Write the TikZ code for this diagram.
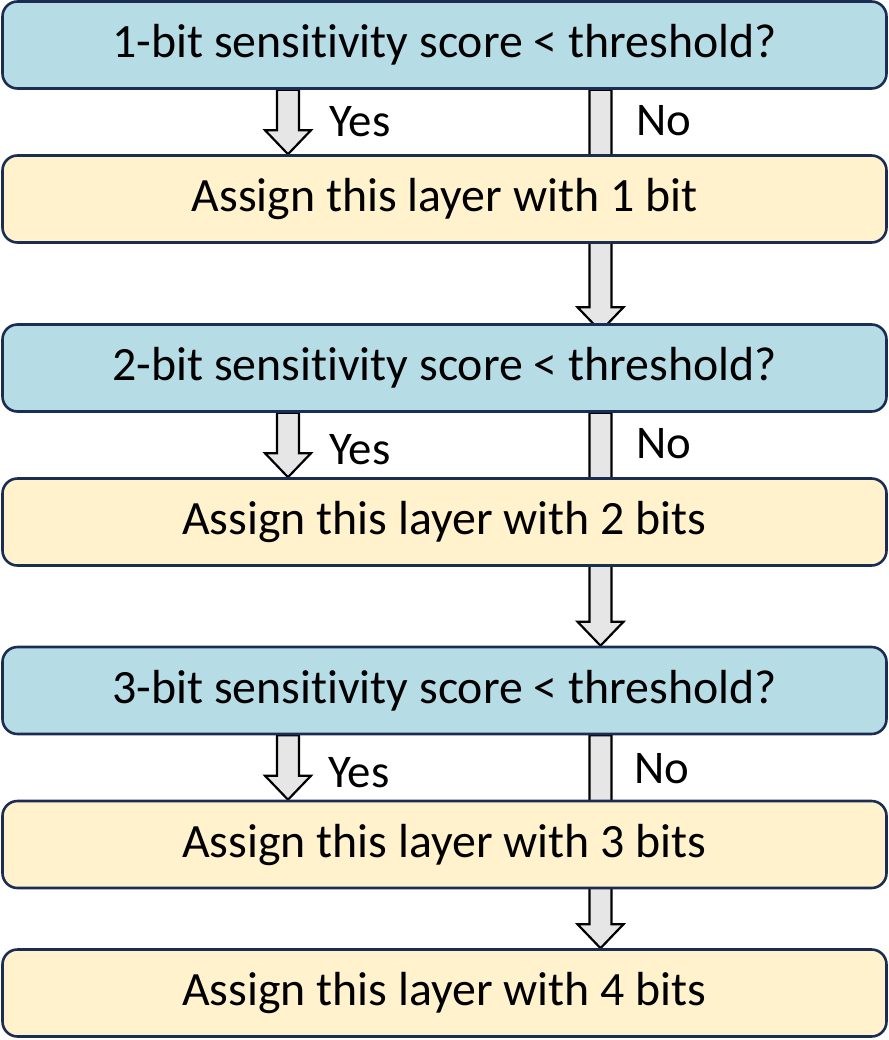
\documentclass[tikz,border=0pt]{standalone}
\usepackage{fontspec}
\setmainfont{Carlito}[Ligatures=NoCommon]
\usetikzlibrary{calc,backgrounds}
\definecolor{boxblue}{RGB}{182,220,230}
\definecolor{boxyellow}{RGB}{255,242,204}
\definecolor{boxline}{RGB}{28,45,84}
\definecolor{arrowgray}{RGB}{230,230,230}
\tikzset{
  box/.style={draw=boxline, line width=2.6bp, rounded corners=15bp,
    minimum width=884bp, minimum height=87bp, inner sep=0pt,
    font=\fontsize{48}{56}\selectfont},
  decision/.style={box, fill=boxblue},
  action/.style={box, fill=boxyellow},
  lbl/.style={font=\fontsize{47}{56}\selectfont, inner sep=0pt, anchor=west},
  blockarrow/.style={draw=black, fill=arrowgray, line width=2.2bp, line join=miter}
}
\newcommand{\blockarr}[2]{%
  \path[blockarrow] let \p1=(#1), \p2=(#2) in
    ({\x1-11bp},\y1) -- ({\x1-11bp},{\y2+24bp}) -- ({\x1-23bp},{\y2+24bp}) --
    (\x1,\y2) -- ({\x1+23bp},{\y2+24bp}) -- ({\x1+11bp},{\y2+24bp}) --
    ({\x1+11bp},\y1) -- cycle;}
\begin{document}
\begin{tikzpicture}[x=1bp,y=-1bp]
\useasboundingbox (0,0) rectangle (889,1040);
\node[decision] (d1) at (444.5,45) {1-bit sensitivity score < threshold?};
\node[action]   (a1) at (444.5,199) {Assign this layer with 1 bit};
\node[decision] (d2) at (444.5,368) {2-bit sensitivity score < threshold?};
\node[action]   (a2) at (444.5,522) {Assign this layer with 2 bits};
\node[decision] (d3) at (444.5,690.5) {3-bit sensitivity score < threshold?};
\node[action]   (a3) at (444.5,844.5) {Assign this layer with 3 bits};
\node[action]   (a4) at (444.5,993) {Assign this layer with 4 bits};
\coordinate (yx) at (288,0);
\coordinate (nx) at (600.5,0);
\begin{pgfonlayer}{background}
\blockarr{d1.south -| yx}{a1.north -| yx}
\blockarr{d2.south -| yx}{a2.north -| yx}
\blockarr{d3.south -| yx}{a3.north -| yx}
\blockarr{d1.south -| nx}{$(d2.north -| nx)+(0,8)$}
\blockarr{d2.south -| nx}{d3.north -| nx}
\blockarr{d3.south -| nx}{a4.north -| nx}
\end{pgfonlayer}
\node[lbl] (yes1) at (329,122) {Yes};
\node[lbl] (no1)  at (636,121) {No};
\node[lbl] (yes2) at (329,450) {Yes};
\node[lbl] (no2)  at (636,444) {No};
\node[lbl] (yes3) at (328,773) {Yes};
\node[lbl] (no3)  at (634,769) {No};
\end{tikzpicture}
\end{document}
